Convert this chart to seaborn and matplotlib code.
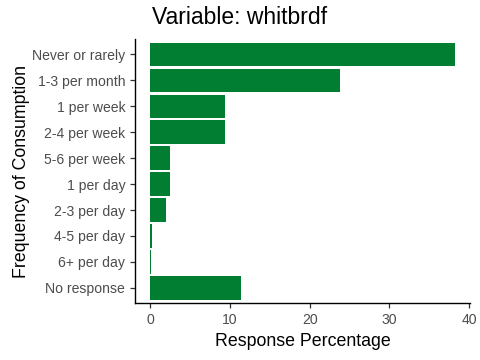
import matplotlib
matplotlib.use("Agg")
import matplotlib.pyplot as plt
import pandas as pd
import seaborn as sns

categories = [
    "Never or rarely", "1-3 per month", "1 per week", "2-4 per week",
    "5-6 per week", "1 per day", "2-3 per day", "4-5 per day",
    "6+ per day", "No response",
]
percentages = [38.2, 23.8, 9.4, 9.4, 2.5, 2.5, 2.0, 0.25, 0.1, 11.4]
x_ticks = [0, 10, 20, 30, 40]

df = pd.DataFrame({"frequency": categories, "percent": percentages})

sns.set_theme(style="ticks")
plt.rcParams["font.family"] = ["Liberation Sans", "DejaVu Sans"]

fig = plt.figure(figsize=(4.8, 3.6), dpi=100)
ax = fig.add_axes([0.281, 0.157, 0.698, 0.7355])

sns.barplot(
    data=df, y="frequency", x="percent", order=categories,
    color="#027E33", saturation=1, width=0.9, orient="h",
    linewidth=0, ax=ax,
)

xmax = max(percentages)
ax.set_xlim(-0.05 * xmax, xmax * 1.05)
ax.set_ylim(len(categories) - 0.4, -0.6)
ax.set_xticks(x_ticks)

for side in ["top", "right"]:
    ax.spines[side].set_visible(False)
for side in ["left", "bottom"]:
    ax.spines[side].set_color("black")
    ax.spines[side].set_linewidth(1.0)

ax.tick_params(axis="both", colors="#333333", labelcolor="#4D4D4D",
               labelsize=10.1, length=3.5, width=0.9, pad=3.5)
ax.set_xlabel("Response Percentage", fontsize=12.8, color="black", labelpad=4)
ax.set_ylabel("Frequency of Consumption", fontsize=12.8, color="black", labelpad=1.5)

fig.text(152 / 480, 1 - 17 / 360, "Variable: whitbrdf", fontsize=16.5,
         color="black", ha="left", va="center")

fig.savefig("out.png", dpi=100)
